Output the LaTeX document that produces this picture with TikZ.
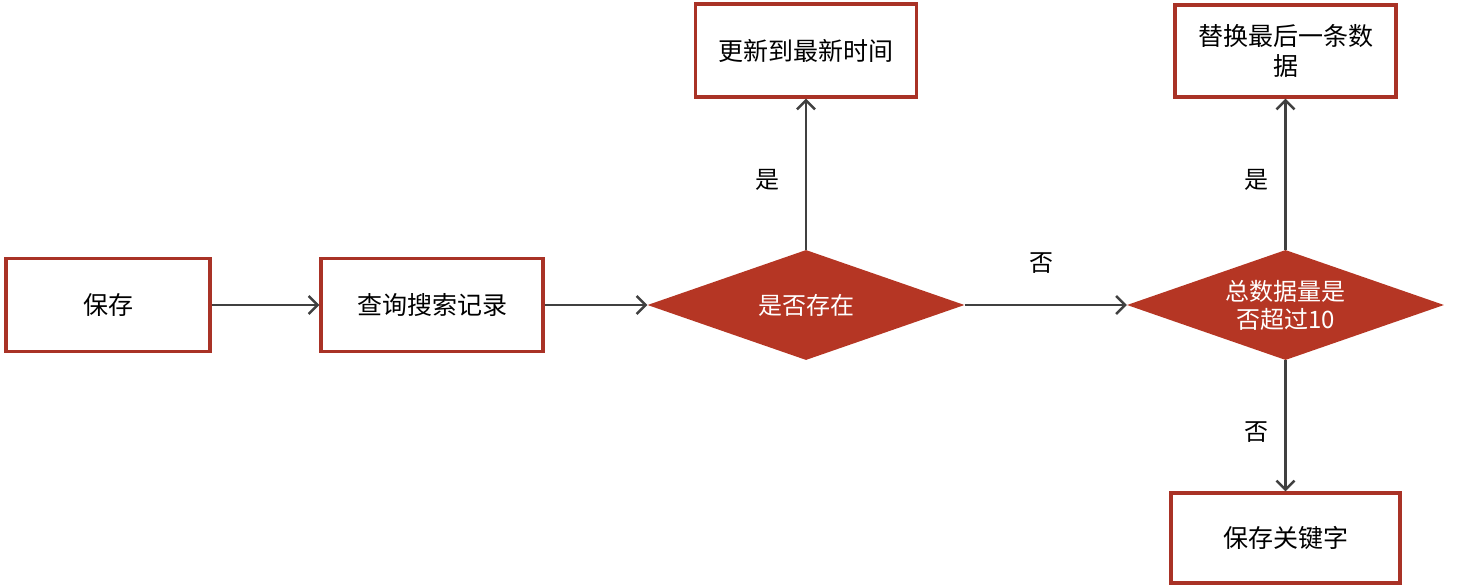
\documentclass[tikz,border=0pt]{standalone}
\usepackage{fontspec}
\setmainfont{Noto Sans CJK SC}
\usetikzlibrary{shapes.geometric,arrows.meta}
\definecolor{boxred}{HTML}{A93226}
\definecolor{diared}{HTML}{B53624}
\definecolor{linegray}{HTML}{404040}
\tikzset{
  box/.style={draw=boxred, line width=3.2pt, fill=white, inner sep=0pt, align=center, font=\fontsize{25}{30}\selectfont},
  dia/.style={diamond, fill=diared, inner sep=0pt, aspect=2.88, minimum width=317pt, minimum height=110pt, text=white, align=center, font=\fontsize{24}{28}\selectfont},
  conn/.style={draw=linegray, line width=2.5pt, -{Straight Barb[length=9pt,width=18pt,line width=2.5pt]}},
  lbl/.style={font=\fontsize{24}{28}\selectfont, text=black}
}
\begin{document}
\begin{tikzpicture}[x=1pt,y=-1pt]
\useasboundingbox (0,0) rectangle (1470,586);
\node[box, minimum width=204pt, minimum height=93pt] (save) at (108,305) {保存};
\node[box, minimum width=222pt, minimum height=93pt] (query) at (432,305) {查询搜索记录};
\node[dia] (exist) at (806,305) {是否存在};
\node[box, minimum width=221pt, minimum height=93pt] (update) at (806,50.5) {更新到最新时间};
\node[dia] (count) at (1285.5,305) {总数据量是\\否超过10};
\node[box, minimum width=221pt, minimum height=92pt] (replace) at (1285.5,51) {替换最后一条数\\据};
\node[box, minimum width=229pt, minimum height=90pt] (savekw) at (1285.5,538) {保存关键字};
\draw[conn] (save) -- (query);
\draw[conn] (query) -- (exist);
\draw[conn] (exist) -- (update);
\draw[conn] (exist) -- (count);
\draw[conn] (count) -- (replace);
\draw[conn] (count) -- (savekw);
\node[lbl] (y1) at (767,180) {是};
\node[lbl] (n1) at (1041,263) {否};
\node[lbl] (y2) at (1256,180) {是};
\node[lbl] (n2) at (1256,432) {否};
\end{tikzpicture}
\end{document}
